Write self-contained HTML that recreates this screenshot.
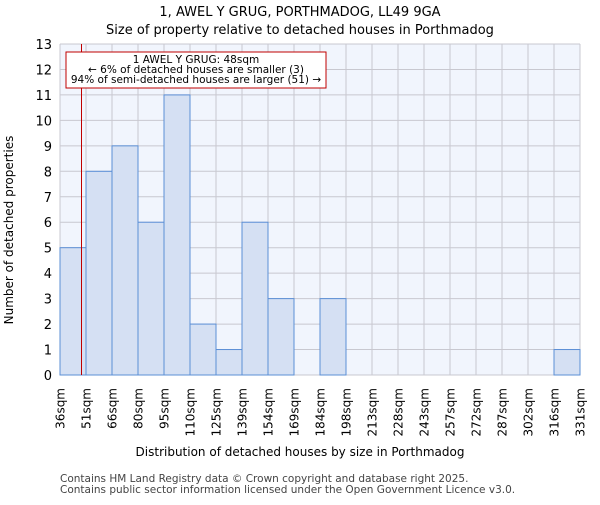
<!DOCTYPE html>
<html><head><meta charset="utf-8"><style>body{margin:0;background:#fff}svg{font-family:"DejaVu Sans","Liberation Sans",sans-serif}</style></head>
<body>
<svg id="c" width="600" height="500">
<text x="300" y="16" text-anchor="middle" font-size="13">1, AWEL Y GRUG, PORTHMADOG, LL49 9GA</text>
<text x="300" y="34" text-anchor="middle" font-size="13">Size of property relative to detached houses in Porthmadog</text>
<rect x="60" y="44" width="520" height="331" fill="#f1f5fd"/>
<g id="grid"></g><g id="bars"></g><g id="ticks"></g>
<line x1="81.5" y1="44" x2="81.5" y2="375" stroke="#c00000" stroke-width="1"/>
<rect x="66" y="52" width="260" height="36" fill="#fff" stroke="#c00000"/>
<text x="196" y="63" text-anchor="middle" font-size="10.5">1 AWEL Y GRUG: 48sqm</text>
<text x="196" y="73" text-anchor="middle" font-size="10.5">← 6% of detached houses are smaller (3)</text>
<text x="196" y="83" text-anchor="middle" font-size="10.5">94% of semi-detached houses are larger (51) →</text>
<text x="300" y="456" text-anchor="middle" font-size="12">Distribution of detached houses by size in Porthmadog</text>
<text transform="translate(13,230) rotate(-90)" text-anchor="middle" font-size="12">Number of detached properties</text>
<text x="60" y="482" font-size="10.5" fill="#444">Contains HM Land Registry data © Crown copyright and database right 2025.</text>
<text x="60" y="493" font-size="10.5" fill="#444">Contains public sector information licensed under the Open Government Licence v3.0.</text>
</svg>
<script>
const categories=["36sqm","51sqm","66sqm","80sqm","95sqm","110sqm","125sqm","139sqm","154sqm","169sqm","184sqm","198sqm","213sqm","228sqm","243sqm","257sqm","272sqm","287sqm","302sqm","316sqm","331sqm"];
const values=[5,8,9,6,11,2,1,6,3,0,3,0,0,0,0,0,0,0,0,1];
const yTicks=[0,1,2,3,4,5,6,7,8,9,10,11,12,13];
const NS="http://www.w3.org/2000/svg";
const x0=60,x1=580,y0=375,y1=44,yMax=13;
const bw=(x1-x0)/values.length;
const xs=i=>x0+i*bw, ys=v=>y0-(v/yMax)*(y0-y1);
function mk(t,a,p){const e=document.createElementNS(NS,t);for(const k in a)e.setAttribute(k,a[k]);document.getElementById(p).appendChild(e);return e;}
yTicks.forEach(v=>{
 const l=mk('line',{x1:x0,x2:x1,y1:ys(v),y2:ys(v),stroke:'#c8c8d0','stroke-width':1},'grid');
 
 
 const t=mk('text',{x:x0-8,y:ys(v)+5,'text-anchor':'end','font-size':13},'ticks');t.textContent=v;
 
 
});
categories.forEach((c,i)=>{
 const l=mk('line',{x1:xs(i),x2:xs(i),y1:y1,y2:y0,stroke:'#c8c8d0','stroke-width':1},'grid');
 
 
 const t=mk('text',{transform:`translate(${xs(i)+4.5},388) rotate(-90)`,'text-anchor':'end','font-size':12},'ticks');t.textContent=c;
 
 
});
values.forEach((v,i)=>{
 if(v<=0)return;
 const r=mk('rect',{x:xs(i),y:ys(v),width:bw,height:y0-ys(v),fill:'#d5e0f3',stroke:'#5b8fd6','stroke-width':1},'bars');
 
 
});
</script>
</body></html>
